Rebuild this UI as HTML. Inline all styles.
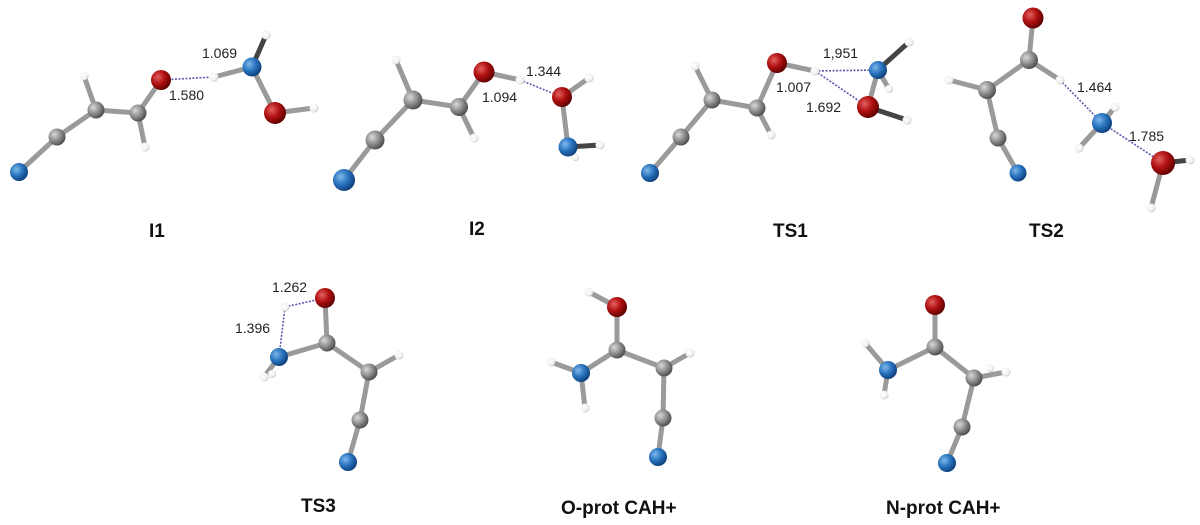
<!DOCTYPE html>
<html><head><meta charset="utf-8"><style>
html,body{margin:0;padding:0;background:#fff;}
svg{display:block}
text{font-family:"Liberation Sans",Arial,sans-serif;}
.l{font-size:14px;fill:#222}
.t{font-size:19px;font-weight:bold;fill:#111}
.b{stroke:#9a9a9a;stroke-width:5;stroke-linecap:round}
.bd{stroke:#444;stroke-width:5;stroke-linecap:round}
.h{stroke:#5a5ab0;stroke-width:1.6;stroke-dasharray:2 1.5}
</style></head><body>
<svg width="1200" height="525" viewBox="0 0 1200 525" xmlns="http://www.w3.org/2000/svg">
<defs>
<radialGradient id="gN" cx="0.35" cy="0.35" r="0.7"><stop offset="0" stop-color="#7fb8ea"/><stop offset="0.5" stop-color="#2a74c0"/><stop offset="1" stop-color="#0d3d78"/></radialGradient>
<radialGradient id="gO" cx="0.35" cy="0.35" r="0.7"><stop offset="0" stop-color="#e36060"/><stop offset="0.5" stop-color="#b01010"/><stop offset="1" stop-color="#5a0000"/></radialGradient>
<radialGradient id="gC" cx="0.35" cy="0.35" r="0.7"><stop offset="0" stop-color="#d8d8d8"/><stop offset="0.55" stop-color="#8a8a8a"/><stop offset="1" stop-color="#4a4a4a"/></radialGradient>
<radialGradient id="gH" cx="0.4" cy="0.4" r="0.7"><stop offset="0" stop-color="#fff"/><stop offset="0.7" stop-color="#eee"/><stop offset="1" stop-color="#999"/></radialGradient>
</defs>

<!-- I1 -->
<g>
<line class="b" x1="19" y1="172" x2="57" y2="137"/><line class="b" x1="57" y1="137" x2="96" y2="110"/>
<line class="b" x1="96" y1="110" x2="84" y2="76"/><line class="b" x1="96" y1="110" x2="138" y2="113"/>
<line class="b" x1="138" y1="113" x2="145" y2="147"/><line class="b" x1="138" y1="113" x2="161" y2="80"/>
<line class="b" x1="214" y1="77" x2="252" y2="67"/><line class="bd" x1="252" y1="67" x2="266" y2="35"/>
<line class="b" x1="252" y1="67" x2="275" y2="113"/><line class="b" x1="275" y1="113" x2="314" y2="108"/>
<line class="h" x1="161" y1="80" x2="214" y2="77"/>
<circle cx="84" cy="76" r="4.5" fill="url(#gH)"/><circle cx="145" cy="147" r="4.5" fill="url(#gH)"/>
<circle cx="266" cy="35" r="4.5" fill="url(#gH)"/><circle cx="314" cy="108" r="4.5" fill="url(#gH)"/>
<circle cx="214" cy="77" r="4.5" fill="url(#gH)"/>
<circle cx="19" cy="172" r="9" fill="url(#gN)"/><circle cx="57" cy="137" r="8.5" fill="url(#gC)"/>
<circle cx="96" cy="110" r="8.5" fill="url(#gC)"/><circle cx="138" cy="113" r="8.5" fill="url(#gC)"/>
<circle cx="161" cy="80" r="10" fill="url(#gO)"/><circle cx="252" cy="67" r="9.5" fill="url(#gN)"/>
<circle cx="275" cy="113" r="11" fill="url(#gO)"/>
<text class="l" x="202" y="58">1.069</text><text class="l" x="169" y="100">1.580</text>
<text class="t" x="149" y="237">I1</text>
</g>

<!-- I2 -->
<g>
<line class="b" x1="344" y1="180" x2="375" y2="140"/><line class="b" x1="375" y1="140" x2="413" y2="100"/>
<line class="b" x1="413" y1="100" x2="396" y2="60"/><line class="b" x1="413" y1="100" x2="459" y2="107"/>
<line class="b" x1="459" y1="107" x2="474" y2="138"/><line class="b" x1="459" y1="107" x2="484" y2="72"/>
<line class="b" x1="484" y1="72" x2="520" y2="80"/><line class="h" x1="520" y1="80" x2="562" y2="97"/>
<line class="b" x1="562" y1="97" x2="589" y2="78"/><line class="b" x1="562" y1="97" x2="568" y2="147"/>
<line class="bd" x1="568" y1="147" x2="600" y2="145"/><line class="b" x1="568" y1="147" x2="575" y2="157"/>
<circle cx="396" cy="60" r="4.5" fill="url(#gH)"/><circle cx="474" cy="138" r="4.5" fill="url(#gH)"/>
<circle cx="520" cy="80" r="4.5" fill="url(#gH)"/><circle cx="589" cy="78" r="4.5" fill="url(#gH)"/>
<circle cx="600" cy="145" r="4.5" fill="url(#gH)"/><circle cx="575" cy="157" r="4" fill="url(#gH)"/>
<circle cx="344" cy="180" r="11" fill="url(#gN)"/><circle cx="375" cy="140" r="9.5" fill="url(#gC)"/>
<circle cx="413" cy="100" r="9.5" fill="url(#gC)"/><circle cx="459" cy="107" r="9" fill="url(#gC)"/>
<circle cx="484" cy="72" r="10.5" fill="url(#gO)"/><circle cx="562" cy="97" r="10" fill="url(#gO)"/>
<circle cx="568" cy="147" r="9.5" fill="url(#gN)"/>
<text class="l" x="526" y="76">1.344</text><text class="l" x="482" y="102">1.094</text>
<text class="t" x="469" y="235">I2</text>
</g>

<!-- TS1 -->
<g>
<line class="b" x1="650" y1="173" x2="681" y2="137"/><line class="b" x1="681" y1="137" x2="712" y2="100"/>
<line class="b" x1="712" y1="100" x2="695" y2="66"/><line class="b" x1="712" y1="100" x2="757" y2="108"/>
<line class="b" x1="757" y1="108" x2="771" y2="135"/><line class="b" x1="757" y1="108" x2="777" y2="63"/>
<line class="b" x1="777" y1="63" x2="815" y2="71"/>
<line class="h" x1="815" y1="71" x2="878" y2="70"/><line class="h" x1="815" y1="71" x2="868" y2="107"/>
<line class="bd" x1="878" y1="70" x2="909" y2="42"/><line class="b" x1="878" y1="70" x2="889" y2="89"/>
<line class="b" x1="878" y1="70" x2="868" y2="107"/><line class="bd" x1="868" y1="107" x2="907" y2="120"/>
<circle cx="695" cy="66" r="4.5" fill="url(#gH)"/><circle cx="771" cy="135" r="4.5" fill="url(#gH)"/>
<circle cx="815" cy="71" r="4.5" fill="url(#gH)"/><circle cx="909" cy="42" r="4.5" fill="url(#gH)"/>
<circle cx="889" cy="89" r="4" fill="url(#gH)"/><circle cx="907" cy="120" r="4.5" fill="url(#gH)"/>
<circle cx="650" cy="173" r="9" fill="url(#gN)"/><circle cx="681" cy="137" r="8.5" fill="url(#gC)"/>
<circle cx="712" cy="100" r="8.5" fill="url(#gC)"/><circle cx="757" cy="108" r="8.5" fill="url(#gC)"/>
<circle cx="777" cy="63" r="10" fill="url(#gO)"/><circle cx="878" cy="70" r="9" fill="url(#gN)"/>
<circle cx="868" cy="107" r="11" fill="url(#gO)"/>
<text class="l" x="823" y="58">1,951</text><text class="l" x="776" y="92">1.007</text>
<text class="l" x="806" y="112">1.692</text>
<text class="t" x="773" y="237">TS1</text>
</g>

<!-- TS2 -->
<g>
<line class="b" x1="1033" y1="18" x2="1029" y2="60"/><line class="b" x1="1029" y1="60" x2="987" y2="90"/>
<line class="b" x1="1029" y1="60" x2="1060" y2="80"/><line class="b" x1="987" y1="90" x2="949" y2="80"/>
<line class="b" x1="987" y1="90" x2="998" y2="138"/><line class="b" x1="998" y1="138" x2="1018" y2="173"/>
<line class="h" x1="1060" y1="80" x2="1102" y2="123"/><line class="h" x1="1102" y1="123" x2="1163" y2="163"/>
<line class="b" x1="1102" y1="123" x2="1115" y2="107"/><line class="b" x1="1102" y1="123" x2="1079" y2="148"/>
<line class="bd" x1="1163" y1="163" x2="1190" y2="160"/><line class="b" x1="1163" y1="163" x2="1151" y2="208"/>
<circle cx="949" cy="80" r="4.5" fill="url(#gH)"/><circle cx="1060" cy="80" r="4.5" fill="url(#gH)"/>
<circle cx="1115" cy="107" r="4.5" fill="url(#gH)"/><circle cx="1079" cy="148" r="4.5" fill="url(#gH)"/>
<circle cx="1190" cy="160" r="4.5" fill="url(#gH)"/><circle cx="1151" cy="208" r="4.5" fill="url(#gH)"/>
<circle cx="1033" cy="18" r="10.5" fill="url(#gO)"/><circle cx="1029" cy="60" r="9" fill="url(#gC)"/>
<circle cx="987" cy="90" r="9" fill="url(#gC)"/><circle cx="998" cy="138" r="8.5" fill="url(#gC)"/>
<circle cx="1018" cy="173" r="8.5" fill="url(#gN)"/><circle cx="1102" cy="123" r="10" fill="url(#gN)"/>
<circle cx="1163" cy="163" r="12" fill="url(#gO)"/>
<text class="l" x="1077" y="92">1.464</text><text class="l" x="1129" y="141">1.785</text>
<text class="t" x="1029" y="237">TS2</text>
</g>

<!-- TS3 -->
<g>
<line class="b" x1="325" y1="298" x2="327" y2="343"/><line class="b" x1="327" y1="343" x2="279" y2="357"/>
<line class="b" x1="279" y1="357" x2="264" y2="377"/><line class="b" x1="327" y1="343" x2="369" y2="372"/>
<line class="b" x1="369" y1="372" x2="399" y2="355"/><line class="b" x1="369" y1="372" x2="360" y2="420"/>
<line class="b" x1="360" y1="420" x2="348" y2="462"/>
<line class="h" x1="285" y1="307" x2="325" y2="298"/><line class="h" x1="285" y1="307" x2="279" y2="357"/>
<circle cx="285" cy="307" r="4.5" fill="url(#gH)"/><circle cx="264" cy="377" r="4.5" fill="url(#gH)"/>
<circle cx="272" cy="374" r="4" fill="url(#gH)"/><circle cx="399" cy="355" r="4.5" fill="url(#gH)"/>
<circle cx="325" cy="298" r="10" fill="url(#gO)"/><circle cx="327" cy="343" r="8.5" fill="url(#gC)"/>
<circle cx="279" cy="357" r="9" fill="url(#gN)"/><circle cx="369" cy="372" r="8.5" fill="url(#gC)"/>
<circle cx="360" cy="420" r="8.5" fill="url(#gC)"/><circle cx="348" cy="462" r="9" fill="url(#gN)"/>
<text class="l" x="272" y="292">1.262</text><text class="l" x="235" y="333">1.396</text>
<text class="t" x="301" y="512">TS3</text>
</g>

<!-- O-prot -->
<g>
<line class="b" x1="589" y1="292" x2="617" y2="307"/><line class="b" x1="617" y1="307" x2="617" y2="350"/>
<line class="b" x1="617" y1="350" x2="581" y2="373"/><line class="b" x1="581" y1="373" x2="551" y2="362"/>
<line class="b" x1="581" y1="373" x2="585" y2="408"/><line class="b" x1="617" y1="350" x2="664" y2="368"/>
<line class="b" x1="664" y1="368" x2="690" y2="353"/><line class="b" x1="664" y1="368" x2="663" y2="418"/>
<line class="b" x1="663" y1="418" x2="658" y2="457"/>
<circle cx="589" cy="292" r="4.5" fill="url(#gH)"/><circle cx="551" cy="362" r="4.5" fill="url(#gH)"/>
<circle cx="585" cy="408" r="4.5" fill="url(#gH)"/><circle cx="690" cy="353" r="4.5" fill="url(#gH)"/>
<circle cx="617" cy="307" r="10" fill="url(#gO)"/><circle cx="617" cy="350" r="8.5" fill="url(#gC)"/>
<circle cx="581" cy="373" r="9" fill="url(#gN)"/><circle cx="664" cy="368" r="8.5" fill="url(#gC)"/>
<circle cx="663" cy="418" r="8.5" fill="url(#gC)"/><circle cx="658" cy="457" r="9" fill="url(#gN)"/>
<text class="t" x="561" y="514">O-prot CAH+</text>
</g>

<!-- N-prot -->
<g>
<line class="b" x1="935" y1="305" x2="935" y2="347"/><line class="b" x1="935" y1="347" x2="888" y2="370"/>
<line class="b" x1="888" y1="370" x2="865" y2="343"/><line class="b" x1="888" y1="370" x2="884" y2="395"/>
<line class="b" x1="935" y1="347" x2="974" y2="378"/><line class="b" x1="974" y1="378" x2="1006" y2="372"/>
<line class="b" x1="974" y1="378" x2="962" y2="427"/><line class="b" x1="962" y1="427" x2="947" y2="463"/>
<circle cx="865" cy="343" r="4.5" fill="url(#gH)"/><circle cx="884" cy="395" r="4.5" fill="url(#gH)"/>
<circle cx="1006" cy="372" r="4.5" fill="url(#gH)"/><circle cx="990" cy="368" r="4" fill="url(#gH)"/>
<circle cx="935" cy="305" r="10" fill="url(#gO)"/><circle cx="935" cy="347" r="8.5" fill="url(#gC)"/>
<circle cx="888" cy="370" r="9" fill="url(#gN)"/><circle cx="974" cy="378" r="8.5" fill="url(#gC)"/>
<circle cx="962" cy="427" r="8.5" fill="url(#gC)"/><circle cx="947" cy="463" r="9" fill="url(#gN)"/>
<text class="t" x="886" y="514">N-prot CAH+</text>
</g>
</svg>
</body></html>
